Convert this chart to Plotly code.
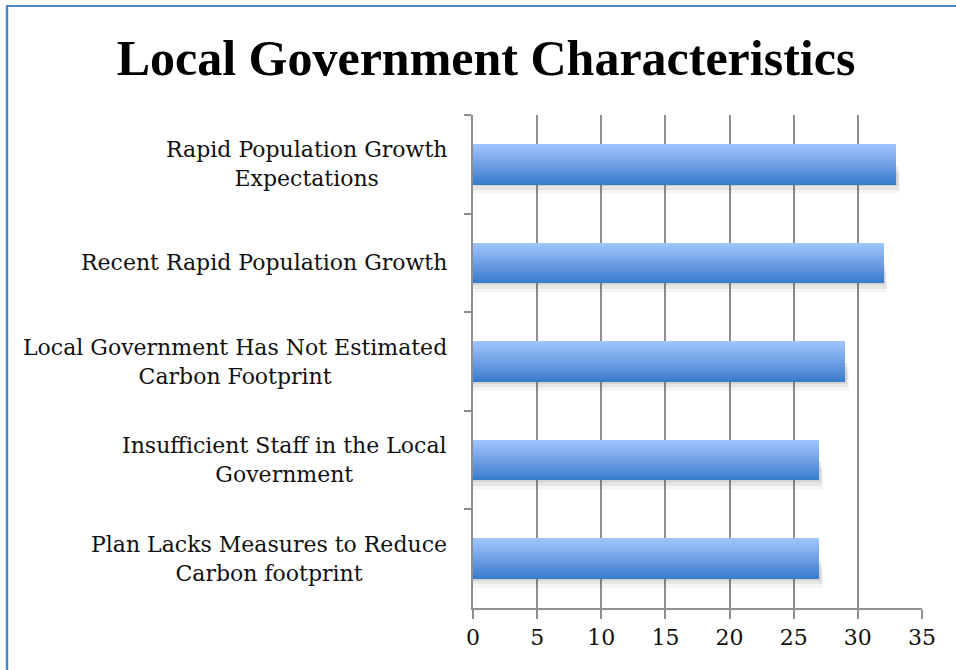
import plotly.graph_objects as go

# Survey characteristics (top to bottom) and their counts
categories = [
    "Rapid Population Growth<br>Expectations",
    "Recent Rapid Population Growth",
    "Local Government Has Not Estimated<br>Carbon Footprint",
    "Insufficient Staff in the Local<br>Government",
    "Plan Lacks Measures to Reduce<br>Carbon footprint",
]
values = [33, 32, 29, 27, 27]
x_ticks = [0, 5, 10, 15, 20, 25, 30, 35]

SERIF = "DejaVu Serif"
TITLE_FONT = "Liberation Serif"
GRID = "#8e8e8e"
BAR_W = 0.41
N_STRIPES = 28

fig = go.Figure()


def lerp(c1, c2, t):
    return tuple(round(a + (b - a) * t) for a, b in zip(c1, c2))


top_c = (158, 196, 252)
mid_c = (118, 164, 232)
bot_c = (56, 124, 204)

# soft drop shadow beneath each bar
for k, alpha in enumerate([0.10, 0.08, 0.05]):
    fig.add_trace(go.Bar(
        y=categories, x=[v + 0.12 + 0.08 * k for v in values],
        orientation="h", width=BAR_W * 0.5, offset=0.02 + 0.035 * k,
        marker=dict(color=f"rgba(60,60,60,{alpha})", line=dict(width=0)),
        hoverinfo="skip", showlegend=False,
    ))

# vertical gradient built from thin bands drawn on top of each other
step = BAR_W / N_STRIPES
for i in range(N_STRIPES):
    t = i / (N_STRIPES - 1)
    if t < 0.45:
        col = lerp(top_c, mid_c, t / 0.45)
    else:
        col = lerp(mid_c, bot_c, (t - 0.45) / 0.55)
    w = step * (1.6 if i < N_STRIPES - 1 else 1.0)
    fig.add_trace(go.Bar(
        y=categories, x=values, orientation="h",
        width=w, offset=-BAR_W / 2 + i * step,
        marker=dict(color="rgb(%d,%d,%d)" % col, line=dict(width=0)),
        hovertemplate="%{y}: %{x}<extra></extra>", showlegend=False,
    ))

# category labels, centred line by line
for cat in categories:
    fig.add_annotation(
        x=0, xref="paper", y=cat, yref="y",
        text=cat, showarrow=False, xanchor="right", yanchor="middle",
        xshift=-24, align="center",
        font=dict(family=SERIF, size=22, color="#111111"),
    )

# outer chart frame (left and top edges)
L, R, T, B = 473, 34, 115, 62
PW, PH = 956 - L - R, 670 - T - B
px = lambda p: (p - L) / PW
py = lambda p: (670 - B - p) / PH
fig.add_shape(type="line", xref="paper", yref="paper",
              x0=px(7), x1=px(7), y0=py(6), y1=py(680),
              line=dict(color="#4f86c6", width=2.5))
fig.add_shape(type="line", xref="paper", yref="paper",
              x0=px(6), x1=px(960), y0=py(6), y1=py(6),
              line=dict(color="#4f86c6", width=2))

fig.update_layout(
    width=956, height=670,
    margin=dict(l=L, r=R, t=T, b=B),
    paper_bgcolor="white", plot_bgcolor="white",
    barmode="overlay", bargap=0,
    title=dict(
        text="<b>Local Government Characteristics</b>",
        x=486 / 956, xanchor="center",
        y=1 - 57 / 670, yanchor="middle",
        font=dict(family=TITLE_FONT, size=50, color="#000000"),
    ),
    xaxis=dict(
        range=[0, 35], tickvals=x_ticks,
        showgrid=True, gridcolor=GRID, gridwidth=1.5,
        showline=True, linecolor=GRID, linewidth=1.5,
        ticks="outside", ticklen=9, tickcolor=GRID, tickwidth=1.5,
        zeroline=False,
        tickfont=dict(family=SERIF, size=22, color="#111111"),
    ),
    yaxis=dict(
        type="category", categoryorder="array", categoryarray=categories,
        autorange="reversed",
        showticklabels=False, showgrid=False, zeroline=False,
        showline=True, linecolor=GRID, linewidth=1.5,
        ticks="outside", tickson="boundaries", ticklen=7,
        tickcolor=GRID, tickwidth=1.5,
    ),
)

fig.write_html("out.html")
